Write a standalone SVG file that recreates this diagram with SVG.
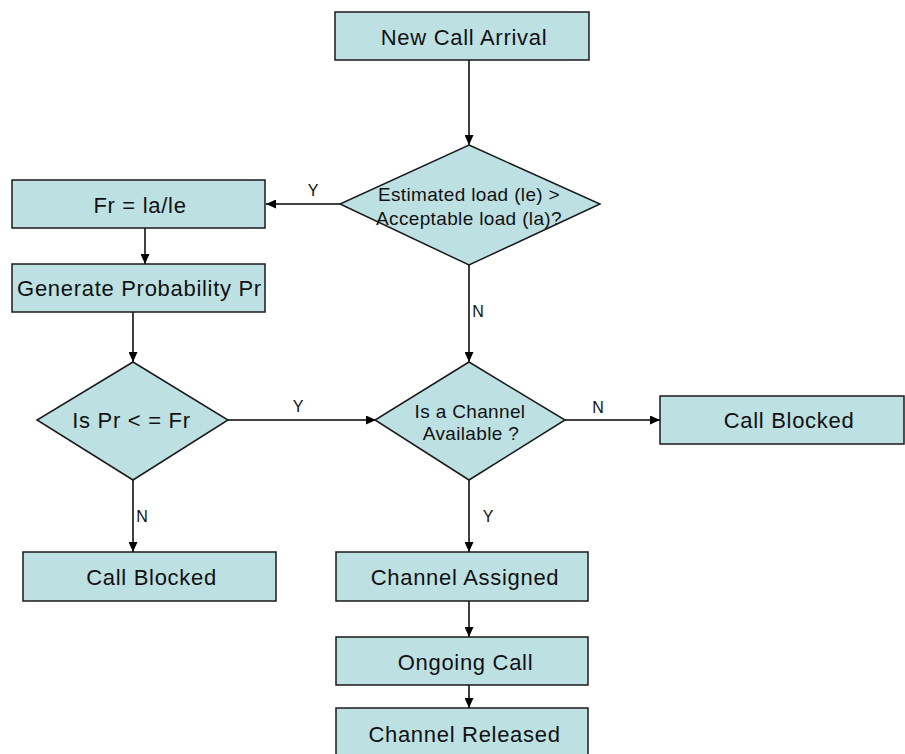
<svg xmlns="http://www.w3.org/2000/svg" width="905" height="754" viewBox="0 0 905 754">
<defs>
<style>
.box{fill:#bde0e3;stroke:#1a1a1a;stroke-width:1.5}
.t{font-family:"Liberation Sans",Arial,sans-serif;font-size:22px;letter-spacing:0.7px;fill:#111;text-anchor:middle}
.d{font-family:"Liberation Sans",Arial,sans-serif;font-size:19px;letter-spacing:0.35px;fill:#111;text-anchor:middle}
.l{font-family:"Liberation Sans",Arial,sans-serif;font-size:16px;fill:#111;text-anchor:middle}
.c{fill:none;stroke:#000;stroke-width:1.5}
</style>
<marker id="arr" markerUnits="userSpaceOnUse" markerWidth="10" markerHeight="9" refX="10" refY="4.5" orient="auto">
<path d="M0,0 L10,4.5 L0,9 z" fill="#000"/>
</marker>
</defs>
<rect width="905" height="754" fill="#fff"/>
<g id="connectors">
<line class="c" x1="469" y1="60" x2="469" y2="145" marker-end="url(#arr)"/>
<line class="c" x1="340" y1="204" x2="266" y2="204" marker-end="url(#arr)"/>
<line class="c" x1="145" y1="228" x2="145" y2="264" marker-end="url(#arr)"/>
<line class="c" x1="469" y1="265" x2="469" y2="362" marker-end="url(#arr)"/>
<line class="c" x1="133" y1="312" x2="133" y2="362" marker-end="url(#arr)"/>
<line class="c" x1="228" y1="420" x2="376" y2="420" marker-end="url(#arr)"/>
<line class="c" x1="565" y1="420" x2="660" y2="420" marker-end="url(#arr)"/>
<line class="c" x1="133" y1="480" x2="133" y2="552" marker-end="url(#arr)"/>
<line class="c" x1="469" y1="480" x2="469" y2="552" marker-end="url(#arr)"/>
<line class="c" x1="469" y1="601" x2="469" y2="637" marker-end="url(#arr)"/>
<line class="c" x1="469" y1="685" x2="469" y2="708" marker-end="url(#arr)"/>
<text class="l" x="313" y="196">Y</text>
<text class="l" x="478" y="317">N</text>
<text class="l" x="298" y="412">Y</text>
<text class="l" x="598" y="413">N</text>
<text class="l" x="142" y="522">N</text>
<text class="l" x="488" y="522">Y</text>
</g>
<g id="new-call">
<rect class="box" x="335" y="12" width="254" height="48"/>
<text class="t" x="464" y="45">New Call Arrival</text>
</g>
<g id="load-decision">
<polygon class="box" points="469,145 600,204 469,265 340,204"/>
<text class="d" x="469" y="201">Estimated load (le) &gt;</text>
<text class="d" x="469" y="225">Acceptable load (la)?</text>
</g>
<g id="fr">
<rect class="box" x="12" y="180" width="253" height="48"/>
<text class="t" x="140" y="213">Fr = la/le</text>
</g>
<g id="generate">
<rect class="box" x="12" y="264" width="253" height="48"/>
<text class="t" x="139.5" y="296">Generate Probability Pr</text>
</g>
<g id="pr-decision">
<polygon class="box" points="133,362 228,420 133,480 37,420"/>
<text class="t" x="131.5" y="428">Is Pr &lt; = Fr</text>
</g>
<g id="channel-decision">
<polygon class="box" points="469,362 565,420 469,480 375,420"/>
<text class="d" x="470" y="418">Is a Channel</text>
<text class="d" x="471" y="440">Available ?</text>
</g>
<g id="call-blocked-right">
<rect class="box" x="660" y="396" width="244" height="48"/>
<text class="t" x="789" y="428">Call Blocked</text>
</g>
<g id="call-blocked-left">
<rect class="box" x="23" y="552" width="253" height="49"/>
<text class="t" x="151.5" y="585">Call Blocked</text>
</g>
<g id="channel-assigned">
<rect class="box" x="336" y="552" width="252" height="49"/>
<text class="t" x="465" y="585">Channel Assigned</text>
</g>
<g id="ongoing-call">
<rect class="box" x="336" y="637" width="252" height="48"/>
<text class="t" x="465.5" y="670">Ongoing Call</text>
</g>
<g id="channel-released">
<rect class="box" x="336" y="708" width="252" height="50"/>
<text class="t" x="464.5" y="742">Channel Released</text>
</g>
</svg>
